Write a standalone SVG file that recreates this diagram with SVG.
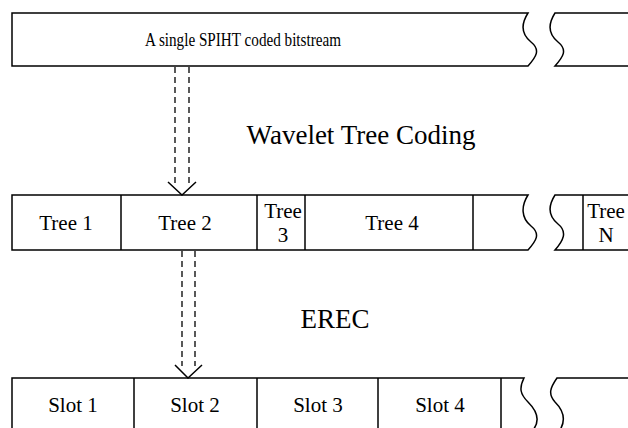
<svg xmlns="http://www.w3.org/2000/svg" width="628" height="428" viewBox="0 0 628 428">
  <style>
    .box { fill: #ffffff; stroke: #000000; stroke-width: 1.5; }
    .div { stroke: #000000; stroke-width: 1.5; }
    .dash { stroke: #000000; stroke-width: 1.3; stroke-dasharray: 6 4; fill: none; }
    .head { fill: none; stroke: #000000; stroke-width: 1.5; }
    text { font-family: "Liberation Serif", "Times New Roman", serif; fill: #000000; text-anchor: middle; }
    .lbl { font-size: 21px; }
    .small { font-size: 19px; }
    .big { font-size: 27px; }
  </style>
  <rect width="628" height="428" fill="#ffffff"/>

  <!-- bitstream bar -->
  <g id="bitstream">
    <path class="box" d="M528,13 H12 V66 H528 C536,57 541,50 531,42 C521,34 521,24 528,13 Z"/>
    <path class="box" d="M629,13 H555 C548,24 548,34 558,42 C568,50 563,57 555,66 H629 Z"/>
    <text class="small" x="243" y="46" textLength="196" lengthAdjust="spacingAndGlyphs">A single SPIHT coded bitstream</text>
  </g>

  <text id="label-wtc" class="big" x="361" y="144">Wavelet Tree Coding</text>

  <!-- tree row -->
  <g id="trees">
    <path class="box" d="M528,195 H12 V250 H528 C536,241 541,234 531,226 C521,218 521,206 528,195 Z"/>
    <path class="box" d="M629,195 H555 C548,206 548,216 558,224 C568,232 563,241 555,250 H629 Z"/>
    <line class="div" x1="121" y1="195" x2="121" y2="250"/>
    <line class="div" x1="257" y1="195" x2="257" y2="250"/>
    <line class="div" x1="305" y1="195" x2="305" y2="250"/>
    <line class="div" x1="473" y1="195" x2="473" y2="250"/>
    <line class="div" x1="583" y1="195" x2="583" y2="250"/>
    <text class="lbl" x="66" y="230">Tree 1</text>
    <text class="lbl" x="185" y="230">Tree 2</text>
    <text class="lbl" x="283" y="218">Tree</text>
    <text class="lbl" x="283" y="242">3</text>
    <text class="lbl" x="392" y="230">Tree 4</text>
    <text class="lbl" x="606" y="218">Tree</text>
    <text class="lbl" x="606" y="242">N</text>
  </g>

  <text id="label-erec" class="big" x="335" y="328">EREC</text>

  <!-- slot row -->
  <g id="slots">
    <path class="box" d="M524,378 H12 V430 H533 C541,420 536,410 528,402 C520,394 519,388 524,378 Z"/>
    <path class="box" d="M629,378 H557 C550,388 548,394 555,402 C563,410 566,420 560,430 H629 Z"/>
    <line class="div" x1="134" y1="378" x2="134" y2="430"/>
    <line class="div" x1="257" y1="378" x2="257" y2="430"/>
    <line class="div" x1="378" y1="378" x2="378" y2="430"/>
    <line class="div" x1="501" y1="378" x2="501" y2="430"/>
    <text class="lbl" x="73" y="412">Slot 1</text>
    <text class="lbl" x="195" y="412">Slot 2</text>
    <text class="lbl" x="318" y="412">Slot 3</text>
    <text class="lbl" x="440" y="412">Slot 4</text>
  </g>

  <!-- dashed double arrows between stages -->
  <g id="connectors">
    <line class="dash" x1="175" y1="67" x2="175" y2="184"/>
    <line class="dash" x1="189" y1="67" x2="189" y2="184"/>
    <polyline class="head" points="168,182 182,195 196,182"/>
    <line class="dash" x1="182" y1="251" x2="182" y2="366"/>
    <line class="dash" x1="195" y1="251" x2="195" y2="366"/>
    <polyline class="head" points="175,365 188,378 202,365"/>
  </g>
</svg>
